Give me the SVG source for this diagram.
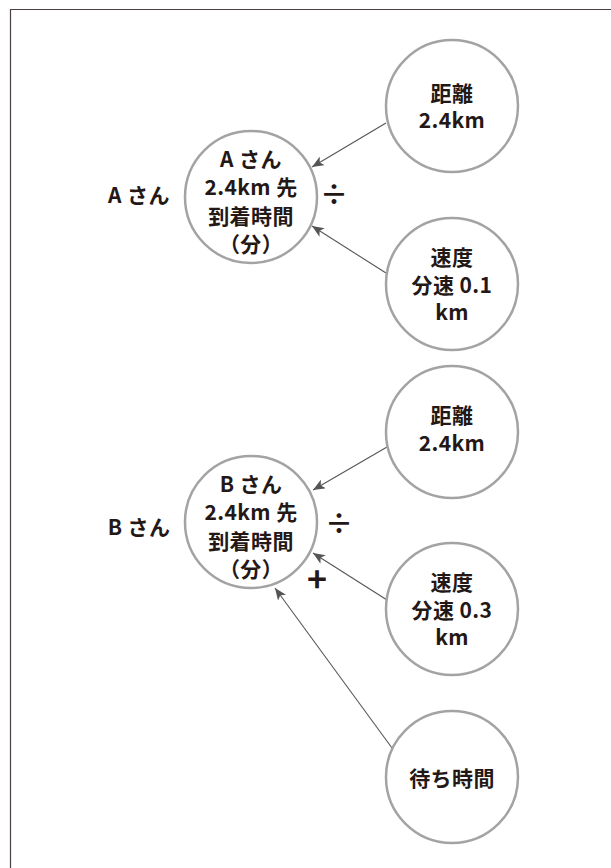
<svg xmlns="http://www.w3.org/2000/svg" width="611" height="868" viewBox="0 0 611 868">
<defs>
<style>
.c{fill:#fff;stroke:#a3a3a3;stroke-width:2.5}
.t{font-family:"Noto Sans CJK JP","Noto Sans",sans-serif;font-weight:700;font-size:21px;fill:#231815;text-anchor:middle;letter-spacing:0.4px}
.l{stroke:#555;stroke-width:1.1;fill:none;marker-end:url(#ah)}
.op{font-family:"Noto Sans CJK JP","DejaVu Sans",sans-serif;font-weight:700;fill:#231815;text-anchor:middle}
</style>
<marker id="ah" viewBox="0 0 12 10" refX="12" refY="5" markerWidth="12" markerHeight="10" markerUnits="userSpaceOnUse" orient="auto">
<path d="M0,0 L12,5 L0,10 L3,5 Z" fill="#555"/>
</marker>
</defs>
<rect width="611" height="868" fill="#fff"/>
<path d="M10.5,868 V9.5 H611" fill="none" stroke="#4a4242" stroke-width="1.2"/>
<g id="connectors">
<line class="l" x1="386" y1="123" x2="312" y2="167"/>
<line class="l" x1="386" y1="273" x2="312" y2="226"/>
<line class="l" x1="387" y1="447" x2="313" y2="490"/>
<line class="l" x1="387" y1="600" x2="313" y2="553"/>
<line class="l" x1="392" y1="748" x2="275" y2="588"/>
</g>
<g id="labelA"><text class="t" x="139" y="203">A さん</text></g>
<g id="opA"><text class="op" x="334" y="205" font-size="28">÷</text></g>
<g id="mainA">
<circle class="c" cx="251" cy="197" r="66"/>
<text class="t" x="251" y="167">A さん</text>
<text class="t" x="251" y="195">2.4km 先</text>
<text class="t" x="251" y="224">到着時間</text>
<text class="t" x="251" y="252">（分）</text>
</g>
<g id="distA">
<circle class="c" cx="452" cy="106" r="66"/>
<text class="t" x="452" y="101">距離</text>
<text class="t" x="452" y="128">2.4km</text>
</g>
<g id="speedA">
<circle class="c" cx="452" cy="284" r="66"/>
<text class="t" x="452" y="265">速度</text>
<text class="t" x="452" y="293">分速 0.1</text>
<text class="t" x="452" y="320">km</text>
</g>
<g id="labelB"><text class="t" x="139" y="535">B さん</text></g>
<g id="opB"><text class="op" x="339" y="534" font-size="28">÷</text></g>
<g id="opPlus"><text class="op" x="317" y="592" font-size="34">+</text></g>
<g id="mainB">
<circle class="c" cx="251" cy="522" r="66"/>
<text class="t" x="251" y="492">B さん</text>
<text class="t" x="251" y="520">2.4km 先</text>
<text class="t" x="251" y="549">到着時間</text>
<text class="t" x="251" y="577">（分）</text>
</g>
<g id="distB">
<circle class="c" cx="452" cy="432" r="66"/>
<text class="t" x="452" y="423">距離</text>
<text class="t" x="452" y="451">2.4km</text>
</g>
<g id="speedB">
<circle class="c" cx="452" cy="609" r="66"/>
<text class="t" x="452" y="590">速度</text>
<text class="t" x="452" y="618">分速 0.3</text>
<text class="t" x="452" y="645">km</text>
</g>
<g id="wait">
<circle class="c" cx="452" cy="777" r="66"/>
<text class="t" x="452" y="786">待ち時間</text>
</g>
</svg>
